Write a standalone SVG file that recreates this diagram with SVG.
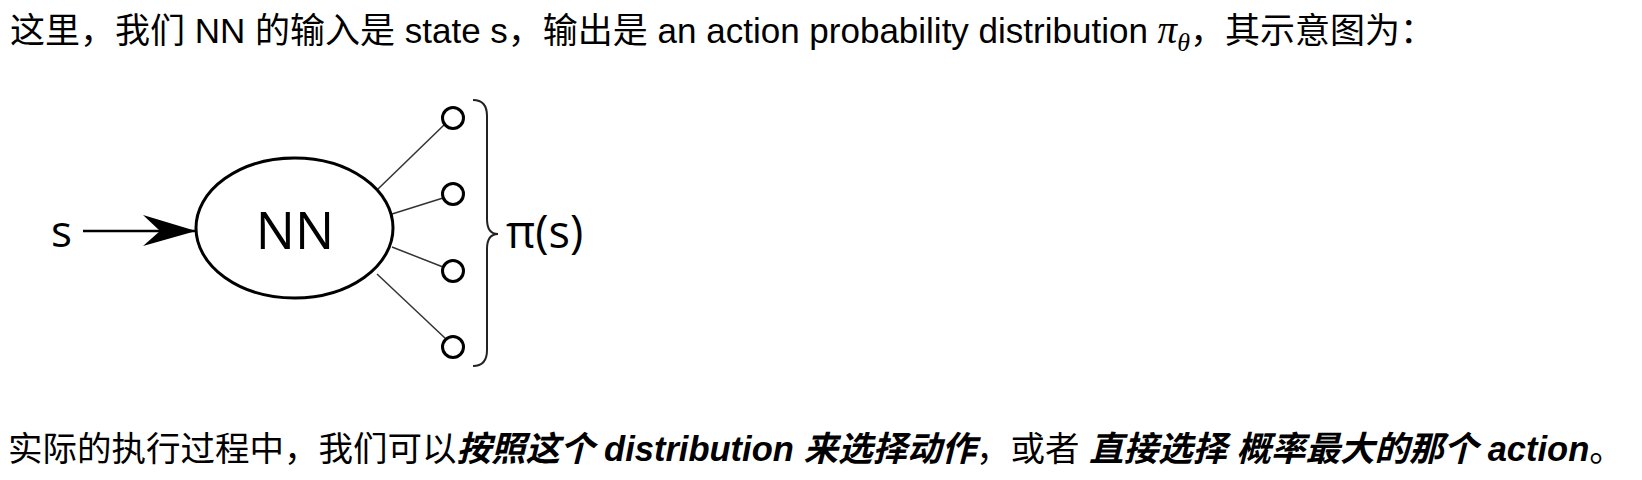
<svg xmlns="http://www.w3.org/2000/svg" width="1642" height="480" viewBox="0 0 1642 480">
  <style>
    .t { font-family: "Liberation Sans", "Noto Sans CJK SC", sans-serif; font-size: 35px; fill: #000; }
    .t3 { font-size: 34.5px; }
    .bi { font-weight: bold; font-style: italic; }
    .math { font-family: "Liberation Serif", "DejaVu Serif", serif; font-style: italic; }
    .d { font-family: "Open Sans", "Noto Sans", sans-serif; fill: #000; }
    .node { fill: #fff; stroke: #000; stroke-width: 3; }
    .edge { fill: none; stroke: #333; stroke-width: 1.5; }
  </style>
  <defs>
    <marker id="arrow" markerUnits="userSpaceOnUse" markerWidth="60" markerHeight="40" refX="53" refY="16" orient="auto">
      <path d="M0,0 L53,16 L0,31 L17,16 Z" fill="#000"/>
    </marker>
  </defs>
  <rect width="1642" height="480" fill="#fff"/>

  <text class="t" x="10" y="43">这里，我们 NN 的输入是 state s，输出是 an action probability distribution <tspan class="math" font-size="39">π</tspan><tspan class="math" font-size="26" dy="8">θ</tspan><tspan dy="-8">，其示意图为：</tspan></text>

  <g id="connectors">
    <line x1="83" y1="231" x2="196" y2="231" stroke="#000" stroke-width="2.5" marker-end="url(#arrow)"/>
    <line class="edge" x1="378" y1="189" x2="444" y2="125"/>
    <line class="edge" x1="392" y1="214" x2="443" y2="198"/>
    <line class="edge" x1="392" y1="247" x2="443" y2="267"/>
    <line class="edge" x1="377" y1="274" x2="446" y2="339"/>
  </g>

  <g id="input-s">
    <text class="d" x="51" y="247" font-size="44">s</text>
  </g>

  <g id="nn">
    <ellipse class="node" cx="294.5" cy="228" rx="98.5" ry="70"/>
    <text class="d" x="295" y="249" font-size="52" text-anchor="middle">NN</text>
  </g>

  <g id="out-1"><circle class="node" cx="453" cy="118" r="10.5"/></g>
  <g id="out-2"><circle class="node" cx="453" cy="194" r="10.5"/></g>
  <g id="out-3"><circle class="node" cx="453" cy="271" r="10.5"/></g>
  <g id="out-4"><circle class="node" cx="453" cy="347" r="10.5"/></g>

  <g id="pi-s">
    <path d="M473,100 Q487,100 487,116 L487,219 Q487,234 498,234 Q487,234 487,249 L487,350 Q487,366 473,366" fill="none" stroke="#222" stroke-width="2"/>
    <text class="d" x="506" y="248" font-size="45">π(s)</text>
  </g>

  <text class="t t3" x="8" y="461">实际的执行过程中，我们可以<tspan class="bi">按照这个 distribution 来选择动作</tspan>，或者 <tspan class="bi">直接选择</tspan> <tspan class="bi">概率最大的那个 action</tspan>。</text>
</svg>
